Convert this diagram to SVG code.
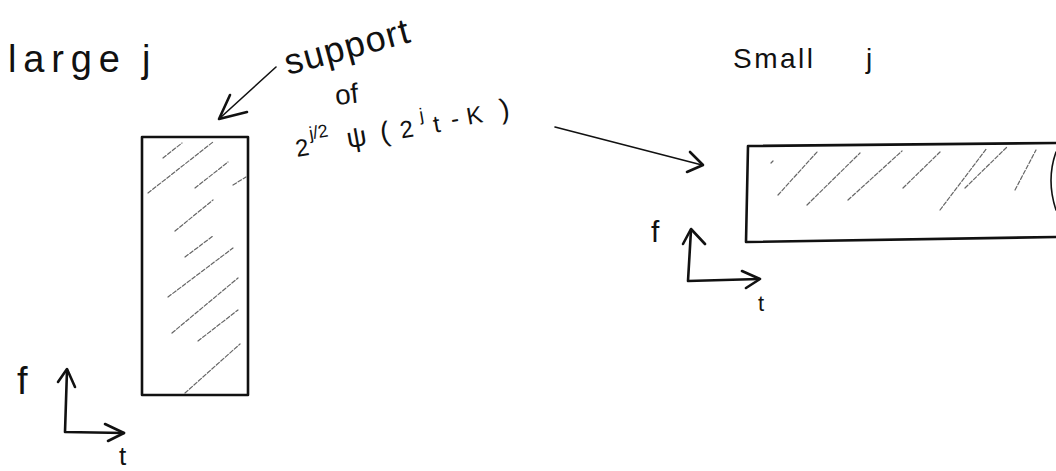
<svg xmlns="http://www.w3.org/2000/svg" width="1056" height="471" viewBox="0 0 1056 471">
<style>
text{font-family:"Liberation Sans",Arial,sans-serif;fill:#111}
.box{fill:none;stroke:#111;stroke-width:2.6;stroke-linejoin:round;stroke-linecap:round}
.hatch{fill:none;stroke:#666;stroke-width:1.2;stroke-dasharray:4 2;stroke-linecap:round}
.ax{fill:none;stroke:#111;stroke-width:2.6;stroke-linejoin:round;stroke-linecap:round}
.con{fill:none;stroke:#111;stroke-width:1.6;stroke-linecap:round;stroke-linejoin:round}
.head{fill:none;stroke:#111;stroke-width:2.6;stroke-linecap:round;stroke-linejoin:round}
</style>
<rect width="1056" height="471" fill="#fff"/>

<g id="title-large">
<text y="72" font-size="38"><tspan x="8" textLength="112" lengthAdjust="spacing">large</tspan><tspan x="142">j</tspan></text>
</g>

<g id="title-small">
<text y="68" font-size="28"><tspan x="733" textLength="80" lengthAdjust="spacing">Small</tspan><tspan x="866">j</tspan></text>
</g>

<g id="label-support">
<text transform="translate(288,75) rotate(-15)" font-size="36" textLength="128" lengthAdjust="spacing">support</text>
<text transform="translate(336,105) rotate(-6)" font-size="28">of</text>
<text transform="translate(297,157) rotate(-10)" font-size="24"><tspan x="0" y="0">2</tspan><tspan x="16" y="-15" font-size="18">j/2</tspan><tspan x="52" y="0" font-size="28">ψ</tspan><tspan x="86" y="0" font-size="28">(</tspan><tspan x="106" y="0">2</tspan><tspan x="128" y="-14" font-size="18">j</tspan><tspan x="140" y="0">t</tspan><tspan x="158" y="-2">-</tspan><tspan x="174" y="-2">K</tspan><tspan x="208" y="-2" font-size="28">)</tspan></text>
</g>

<g id="support-large">
<rect class="box" x="142" y="137" width="106" height="258"/>
<path class="hatch" d="M163,158 L182,143 M148,193 L213,142 M195,188 L228,162 M233,185 L246,177 M175,231 L213,200 M185,257 L213,236 M168,297 L233,248 M172,333 L238,278 M198,341 L238,310 M185,393 L240,344"/>
</g>

<g id="support-small">
<path class="box" d="M1056,143 L748,146 L746,242 L1056,237"/>
<path class="hatch" d="M771,163 L773,161 M778,195 L817,152 M807,205 L860,153 M848,200 L902,151 M903,188 L940,152 M940,210 L987,148 M965,188 L1007,147 M1015,190 L1036,150"/>
<path class="con" d="M1056,152 Q1046,180 1056,210"/>
</g>

<g id="axes-large">
<path class="ax" d="M67,370 L65,432 L124,433"/>
<path class="head" d="M58,382 L67,369 L75,387 M105,424 L124,433 L108,441"/>
<text x="17" y="394" font-size="38">f</text>
<text x="119" y="465" font-size="26">t</text>
</g>

<g id="axes-small">
<path class="ax" d="M691,230 L688,281 L759,279"/>
<path class="head" d="M683,244 L691,229 L705,244 M742,271 L760,279 M760,279 L746,288"/>
<text x="651" y="242" font-size="30">f</text>
<text x="758" y="311" font-size="22">t</text>
</g>

<g id="connectors">
<path class="con" d="M276,67 L220,118"/>
<path class="head" d="M230,95 L219,119 L247,112"/>
<path class="con" d="M555,127 L702,165"/>
<path class="head" d="M690,152 L703,165 L687,172"/>
</g>
</svg>
